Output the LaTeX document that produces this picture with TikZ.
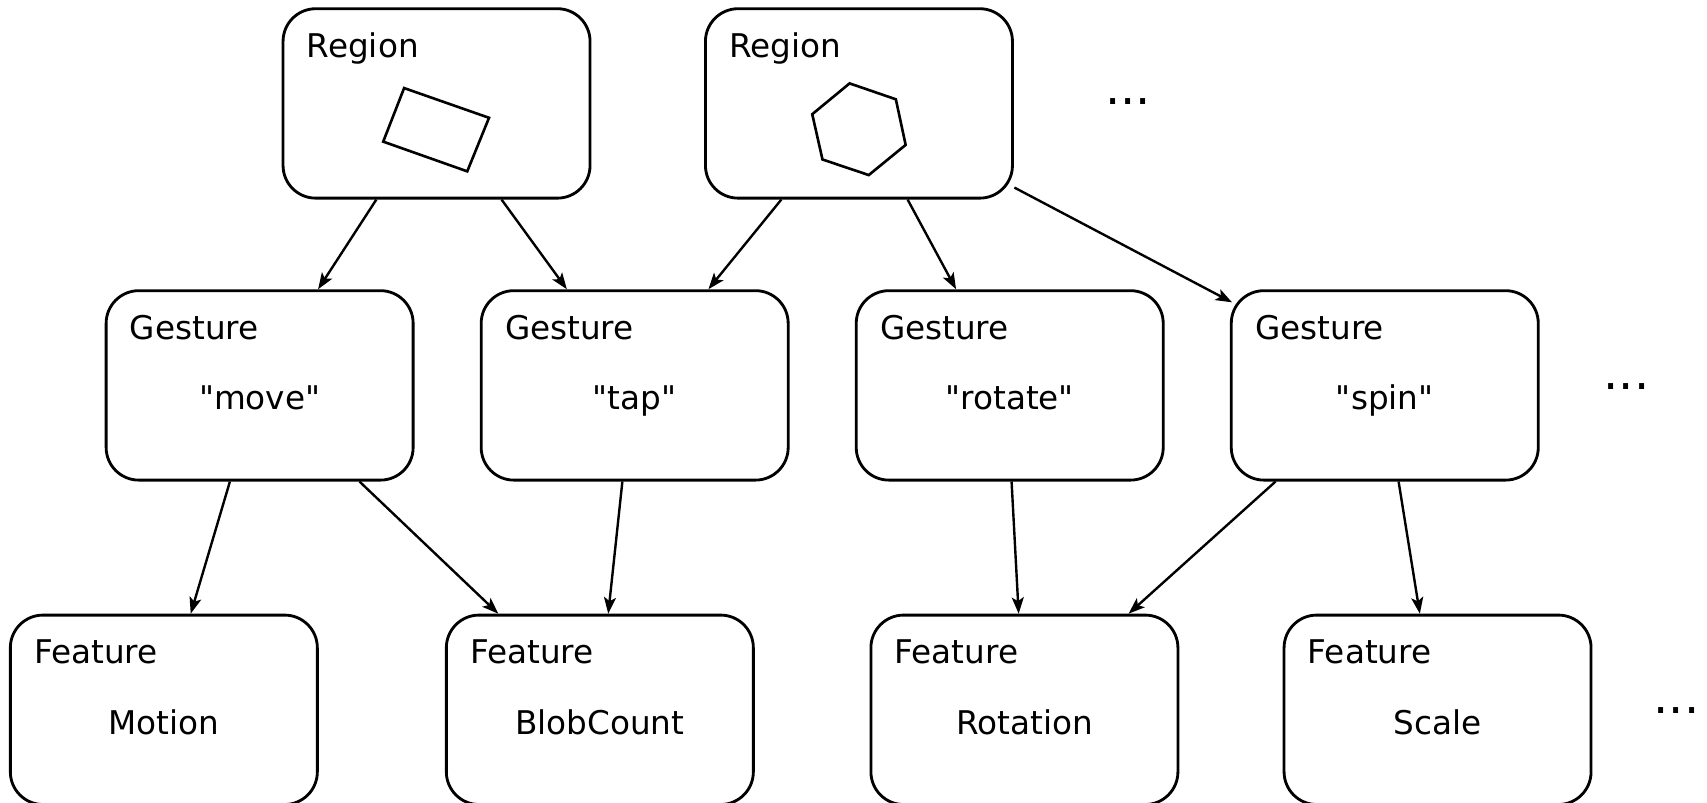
\documentclass[tikz,border=0pt]{standalone}
\usepackage{fontspec}
\setmainfont{DejaVu Sans}
\usetikzlibrary{arrows.meta}
\begin{document}
\begin{tikzpicture}[x=1pt,y=-1pt,
  box/.style={draw, line width=2.6pt, rounded corners=30pt, minimum width=282pt, minimum height=174pt, inner sep=0pt},
  lbl/.style={anchor=base west, inner sep=0pt, font=\fontsize{30}{36}\selectfont},
  txt/.style={anchor=base, inner sep=0pt, font=\fontsize{30}{36}\selectfont},
  dotsn/.style={anchor=base, inner sep=0pt, font=\fontsize{44}{52}\selectfont},
  arr/.style={line width=2.2pt, -{Stealth[length=15pt,width=11pt,inset=3.5pt]}},
  shp/.style={line width=2.4pt, line join=miter}]
\useasboundingbox (0,0) rectangle (1568,736.7);
% boxes
\node[box] (R1) at (401,95) {};
\node[box] (R2) at (789,95) {};
\node[box] (G1) at (238.5,354) {};
\node[box] (G2) at (583,354) {};
\node[box] (G3) at (927.5,354) {};
\node[box] (G4) at (1272,354) {};
\node[box] (F1) at (150.5,652) {};
\node[box] (F2) at (551,652) {};
\node[box] (F3) at (941,652) {};
\node[box] (F4) at (1320.5,652) {};
% header labels
\foreach \n/\t in {R1/Region,R2/Region,G1/Gesture,G2/Gesture,G3/Gesture,G4/Gesture,F1/Feature,F2/Feature,F3/Feature,F4/Feature}{
  \node[lbl] (\n l) at ([xshift=23pt,yshift=-46pt]\n.north west) {\t};
}
% main texts
\node[txt] (G1t) at ([yshift=-110pt]G1.north) {\textquotedbl move\textquotedbl};
\node[txt] (G2t) at ([yshift=-110pt]G2.north) {\textquotedbl tap\textquotedbl};
\node[txt] (G3t) at ([yshift=-110pt]G3.north) {\textquotedbl rotate\textquotedbl};
\node[txt] (G4t) at ([yshift=-110pt]G4.north) {\textquotedbl spin\textquotedbl};
\node[txt] (F1t) at ([yshift=-111pt]F1.north) {Motion};
\node[txt] (F2t) at ([yshift=-111pt]F2.north) {BlobCount};
\node[txt] (F3t) at ([yshift=-111pt]F3.north) {Rotation};
\node[txt] (F4t) at ([yshift=-111pt]F4.north) {Scale};
% shapes in regions
\draw[shp] (371.2,80.9) -- (449.2,108.2) -- (429.2,157.4) -- (352,130.1) -- cycle;
\draw[shp] (780.4,76.6) -- (822.9,91.2) -- (831.9,133.1) -- (798,160.8) -- (755.5,146.5) -- (746.1,104.9) -- cycle;
% dots
\node[dotsn] (d1) at (1036,96) {...};
\node[dotsn] (d2) at (1494,358) {...};
\node[dotsn] (d3) at (1540,655) {...};
% arrows
\draw[arr] ([xshift=87pt]R1.south west) -- ([xshift=196pt]G1.north west);
\draw[arr] ([xshift=202pt]R1.south west) -- ([xshift=80pt]G2.north west);
\draw[arr] ([xshift=71pt]R2.south west) -- ([xshift=210pt]G2.north west);
\draw[arr] ([xshift=187pt]R2.south west) -- ([xshift=93pt]G3.north west);
\draw[arr] ([xshift=0.5pt,yshift=11pt]R2.south east) -- ([xshift=2pt,yshift=-12pt]G4.north west);
\draw[arr] ([xshift=115pt]G1.south west) -- ([xshift=167pt]F1.north west);
\draw[arr] ([xshift=234pt]G1.south west) -- ([xshift=49pt]F2.north west);
\draw[arr] ([xshift=131pt]G2.south west) -- ([xshift=150pt]F2.north west);
\draw[arr] ([xshift=144pt]G3.south west) -- ([xshift=137pt]F3.north west);
\draw[arr] ([xshift=42pt]G4.south west) -- ([xshift=238pt]F3.north west);
\draw[arr] ([xshift=155pt]G4.south west) -- ([xshift=126pt]F4.north west);
\end{tikzpicture}
\end{document}
